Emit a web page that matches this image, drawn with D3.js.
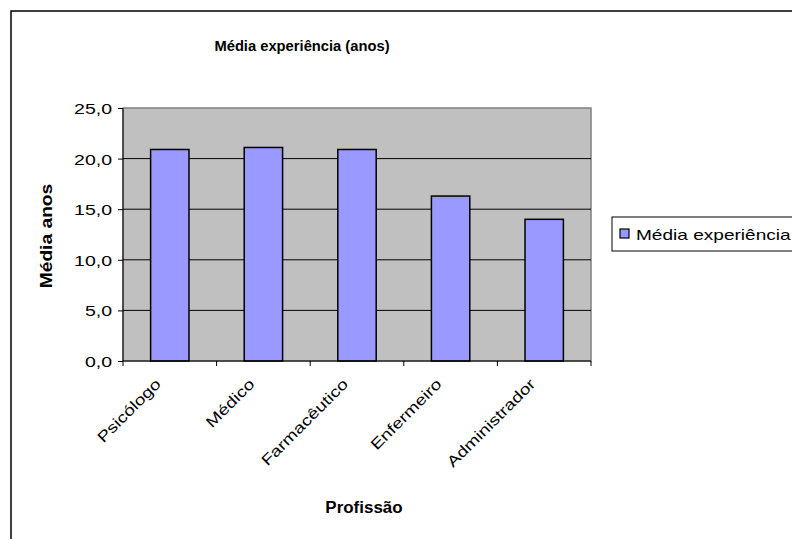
<!DOCTYPE html>
<html lang="pt">
<head>
    <meta charset="UTF-8">
    <title>Média experiência (anos)</title>
    <style>
        body {
            margin: 0;
            padding: 0;
            background-color: #fff;
            font-family: 'Liberation Sans', Arial, sans-serif;
        }
        svg {
            display: block;
        }
        text {
            font-family: 'Liberation Sans', Arial, sans-serif;
            fill: #000;
        }
    </style>
    <script src="https://d3js.org/d3.v7.min.js"></script>
</head>
<body>
    <div id="chart"></div>

    <script>
        var categories = ['Psicólogo', 'Médico', 'Farmacêutico', 'Enfermeiro', 'Administrador'];
        var values = [20.9, 21.1, 20.9, 16.3, 14.0];
        var yTicks = [0, 5, 10, 15, 20, 25];
        var seriesName = 'Média experiência';

        var width = 792, height = 539;
        var plot = { left: 123, top: 108, right: 591, bottom: 361 };

        // the original text is a bit wider than Arial, stretch it horizontally
        function stretch(sel, factor) {
            sel.each(function () {
                var w = this.getComputedTextLength();
                d3.select(this)
                    .attr('textLength', w * factor)
                    .attr('lengthAdjust', 'spacingAndGlyphs');
            });
        }

        var svg = d3.select('#chart')
            .append('svg')
            .attr('width', width)
            .attr('height', height);

        // outer chart border
        svg.append('rect')
            .attr('x', 11).attr('y', 11)
            .attr('width', width).attr('height', height)
            .attr('fill', '#fff')
            .attr('stroke', '#000')
            .attr('stroke-width', 1.5);

        var xScale = d3.scaleBand()
            .domain(categories)
            .range([plot.left, plot.right])
            .padding(0);

        var yScale = d3.scaleLinear()
            .domain([0, 25])
            .range([plot.bottom, plot.top]);

        // plot area
        svg.append('rect')
            .attr('x', plot.left)
            .attr('y', plot.top)
            .attr('width', plot.right - plot.left)
            .attr('height', plot.bottom - plot.top)
            .attr('fill', '#c0c0c0')
            .attr('stroke', '#808080')
            .attr('stroke-width', 1.5);

        // gridlines
        svg.selectAll('line.grid')
            .data(yTicks.filter(d => d > 0 && d < 25))
            .enter()
            .append('line')
            .attr('class', 'grid')
            .attr('x1', plot.left)
            .attr('x2', plot.right)
            .attr('y1', d => yScale(d))
            .attr('y2', d => yScale(d))
            .attr('stroke', '#000')
            .attr('stroke-width', 1);

        // bars
        var barW = xScale.bandwidth() * 0.41;
        svg.selectAll('rect.bar')
            .data(values)
            .enter()
            .append('rect')
            .attr('class', 'bar')
            .attr('x', (d, i) => xScale(categories[i]) + (xScale.bandwidth() - barW) / 2)
            .attr('y', d => yScale(d))
            .attr('width', barW)
            .attr('height', d => plot.bottom - yScale(d))
            .attr('fill', '#9999ff')
            .attr('stroke', '#000')
            .attr('stroke-width', 1.5);

        // y axis
        var yAxis = d3.axisLeft(yScale)
            .tickValues(yTicks)
            .tickSize(5)
            .tickPadding(6)
            .tickFormat(d => d3.format('.1f')(d).replace('.', ','));

        var gy = svg.append('g')
            .attr('transform', 'translate(' + plot.left + ',0)')
            .call(yAxis);
        gy.attr('font-size', null).attr('font-family', null);
        gy.select('.domain').attr('stroke', '#000').attr('d', 'M0,' + plot.top + 'V' + plot.bottom);
        gy.selectAll('.tick line').attr('stroke', '#000');
        gy.selectAll('.tick text')
            .attr('fill', '#000')
            .attr('dy', '0.36em')
            .style('font-size', '15px')
            .call(stretch, 1.3);

        // x axis line + ticks at category boundaries
        var xAxisG = svg.append('g');
        xAxisG.append('line')
            .attr('x1', plot.left).attr('x2', plot.right)
            .attr('y1', plot.bottom).attr('y2', plot.bottom)
            .attr('stroke', '#000');
        var bounds = categories.map(c => xScale(c)).concat([xScale.range()[1]]);
        xAxisG.selectAll('line.tick')
            .data(bounds)
            .enter()
            .append('line')
            .attr('class', 'tick')
            .attr('x1', d => d).attr('x2', d => d)
            .attr('y1', plot.bottom).attr('y2', plot.bottom + 5)
            .attr('stroke', '#000');

        xAxisG.selectAll('text')
            .data(categories)
            .enter()
            .append('text')
            .attr('transform', d => 'translate(' + (xScale(d) + xScale.bandwidth() / 2 - 8) + ',' + (plot.bottom + 24) + ') rotate(-45)')
            .attr('text-anchor', 'end')
            .style('font-size', '15px')
            .text(d => d)
            .call(stretch, 1.27);

        // title
        svg.append('text')
            .attr('x', 302)
            .attr('y', 51)
            .attr('text-anchor', 'middle')
            .style('font-size', '15.5px')
            .style('font-weight', 'bold')
            .text('Média experiência (anos)')
            .call(stretch, 0.95);

        // axis titles
        svg.append('text')
            .attr('transform', 'translate(52,236) rotate(-90)')
            .attr('text-anchor', 'middle')
            .style('font-size', '16px')
            .style('font-weight', 'bold')
            .text('Média anos')
            .call(stretch, 1.2);

        svg.append('text')
            .attr('x', 364)
            .attr('y', 513)
            .attr('text-anchor', 'middle')
            .style('font-size', '16px')
            .style('font-weight', 'bold')
            .text('Profissão')
            .call(stretch, 1.06);

        // legend
        var legend = svg.append('g');
        legend.append('rect')
            .attr('x', 612).attr('y', 217)
            .attr('width', 200).attr('height', 34)
            .attr('fill', '#fff')
            .attr('stroke', '#000')
            .attr('stroke-width', 1);
        legend.append('rect')
            .attr('x', 620).attr('y', 229)
            .attr('width', 9).attr('height', 9)
            .attr('fill', '#9999ff')
            .attr('stroke', '#000')
            .attr('stroke-width', 1.2);
        legend.append('text')
            .attr('x', 636)
            .attr('y', 240)
            .style('font-size', '15px')
            .text(seriesName)
            .call(stretch, 1.27);
    </script>
</body>
</html>
